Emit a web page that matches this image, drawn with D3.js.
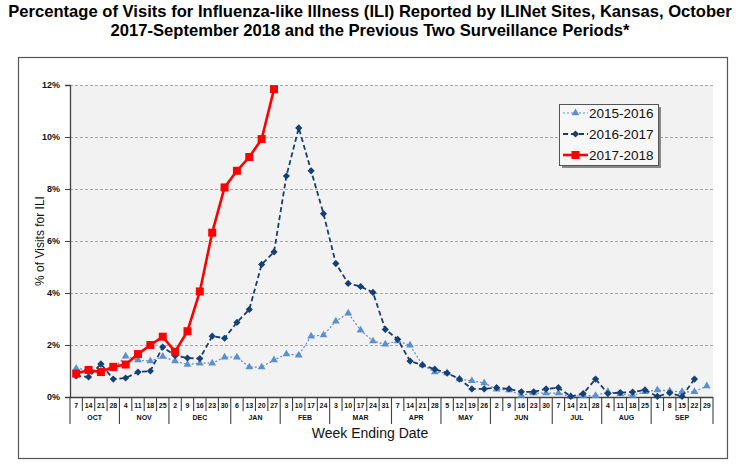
<!DOCTYPE html>
<html><head><meta charset="utf-8">
<script src="https://cdn.jsdelivr.net/npm/d3@7"></script>
<style>
body{margin:0;background:#fff;}
svg{display:block;font-family:"Liberation Sans",Arial,sans-serif;}
</style></head>
<body><svg id="c" width="740" height="468"></svg>
<script>
const weekDays = [7,14,21,28,4,11,18,25,2,9,16,23,30,6,13,20,27,3,10,17,24,3,10,17,24,31,7,14,21,28,5,12,19,26,2,9,16,23,30,7,14,21,28,4,11,18,25,1,8,15,22,29];
const monthNames = ["OCT","NOV","DEC","JAN","FEB","MAR","APR","MAY","JUN","JUL","AUG","SEP"];
const monthWeeks = [4,4,5,4,4,5,4,4,5,4,4,5];
const yTicks = [0,2,4,6,8,10,12];
const s1516 = [1.1,1.04,1.0,1.08,1.57,1.42,1.38,1.56,1.38,1.25,1.3,1.3,1.53,1.53,1.15,1.15,1.42,1.65,1.61,2.34,2.38,2.91,3.22,2.57,2.15,2.03,2.15,1.99,1.23,0.96,0.92,0.69,0.62,0.54,0.3,0.27,0.06,0.15,0.15,0.15,0.02,0.06,0.05,0.2,0.12,0.06,0.2,0.27,0.23,0.2,0.2,0.42];
const s1617 = [0.81,0.77,1.27,0.69,0.73,0.96,1.0,1.92,1.59,1.5,1.48,2.34,2.26,2.87,3.37,5.1,5.58,8.5,10.35,8.7,7.05,5.13,4.37,4.25,4.02,2.6,2.22,1.38,1.23,1.07,0.92,0.69,0.31,0.31,0.36,0.31,0.2,0.2,0.31,0.36,0.02,0.13,0.69,0.13,0.17,0.19,0.27,0.02,0.16,0.02,0.69];
const s1718 = [0.9,1.04,0.96,1.16,1.25,1.65,2.0,2.32,1.74,2.53,4.06,6.32,8.06,8.7,9.23,9.92,11.84];
const seriesNames = ["2015-2016","2016-2017","2017-2018"];

const svg = d3.select("#c");
const L=70, R=713, T=85, B=397;
const x = d3.scaleBand().domain(d3.range(weekDays.length)).range([L,R]).padding(0);
const y = d3.scaleLinear().domain([0,12]).range([B,T]);
const cx = i => x(i)+x.bandwidth()/2;

// title
svg.append("text").attr("x",370).attr("y",17).attr("text-anchor","middle")
  .attr("font-size",16.6).attr("font-weight","bold")
  .text("Percentage of Visits for Influenza-like Illness (ILI) Reported by ILINet Sites, Kansas, October");
svg.append("text").attr("x",370).attr("y",36).attr("text-anchor","middle")
  .attr("font-size",16.6).attr("font-weight","bold")
  .text("2017-September 2018 and the Previous Two Surveillance Periods*");

// frame
svg.append("rect").attr("x",18.5).attr("y",57.5).attr("width",709).attr("height",401)
  .attr("fill","none").attr("stroke","#555").attr("stroke-width",1.2);

// plot background
svg.append("rect").attr("x",L).attr("y",T).attr("width",R-L).attr("height",B-T).attr("fill","#f2f2f2");

// grid
svg.append("g").selectAll("line").data(yTicks.filter(d=>d>0)).join("line")
  .attr("x1",L-5).attr("x2",R).attr("y1",d=>Math.round(y(d))+0.5).attr("y2",d=>Math.round(y(d))+0.5)
  .attr("stroke","#a6a6a6").attr("stroke-width",1.2).attr("stroke-dasharray","3,2");

// y axis
const ya = svg.append("g").attr("transform",`translate(${L},0)`)
  .call(d3.axisLeft(y).tickValues(yTicks).tickFormat(d=>d+"%").tickSize(5).tickPadding(5));
ya.select(".domain").attr("stroke","#404040").attr("stroke-width",1.3);
ya.selectAll(".tick line").attr("stroke","#404040");
ya.selectAll("text").attr("font-size",9).attr("font-weight","bold").attr("fill","#111")
  .attr("font-family","'Liberation Sans',Arial,sans-serif");

// x axis line
svg.append("line").attr("x1",L).attr("x2",R).attr("y1",B+0.5).attr("y2",B+0.5).attr("stroke","#404040").attr("stroke-width",1.3);

// week ticks and labels
const monthStart = [];
let acc=0; monthWeeks.forEach(n=>{monthStart.push(acc); acc+=n;}); monthStart.push(acc);
const xg = svg.append("g");
xg.selectAll("line.wk").data(d3.range(weekDays.length+1)).join("line")
  .attr("x1",i=> i<weekDays.length ? x(i) : R).attr("x2",i=> i<weekDays.length ? x(i) : R)
  .attr("y1",B).attr("y2",i=> monthStart.includes(i) ? 424 : 411)
  .attr("stroke","#404040").attr("stroke-width",1.1);
xg.selectAll("text.wk").data(weekDays).join("text")
  .attr("x",(d,i)=>cx(i)).attr("y",408).attr("text-anchor","middle")
  .attr("font-size",7).attr("font-weight","bold").attr("fill","#111").text(d=>d);
xg.selectAll("text.mo").data(monthNames).join("text")
  .attr("x",(d,i)=> (x(monthStart[i]) + (monthStart[i+1]<weekDays.length? x(monthStart[i+1]) : R))/2)
  .attr("y",420).attr("text-anchor","middle")
  .attr("font-size",7).attr("font-weight","bold").attr("fill","#111").text(d=>d);

svg.append("text").attr("x",370).attr("y",438).attr("text-anchor","middle").attr("font-size",14).attr("fill","#111").text("Week Ending Date");
svg.append("text").attr("transform","translate(44,241) rotate(-90)").attr("text-anchor","middle")
  .attr("font-size",12).attr("fill","#111").text("% of Visits for ILI");

// series
const line = d3.line().x((d,i)=>cx(i)).y(d=>y(d));
const styles = [
  {data:s1516,color:"#5b8fd0",w:1.2,dash:"2,2",marker:"tri"},
  {data:s1617,color:"#163f73",w:1.8,dash:"5,3",marker:"dia"},
  {data:s1718,color:"#ff0000",w:2.6,dash:null,marker:"sq"}
];
const sym = {tri:d3.symbol().type(d3.symbolTriangle).size(26),
             dia:d3.symbol().type(d3.symbolSquare).size(26),
             sq:d3.symbol().type(d3.symbolSquare).size(64)};
const rot = {tri:0, dia:45, sq:0};
styles.forEach(s=>{
  svg.append("path").datum(s.data).attr("d",line).attr("fill","none")
    .attr("stroke",s.color).attr("stroke-width",s.w).attr("stroke-dasharray",s.dash);
  svg.append("g").selectAll("path").data(s.data).join("path")
    .attr("transform",(d,i)=>`translate(${cx(i)},${y(d)}) rotate(${rot[s.marker]})`).attr("d",sym[s.marker]).attr("fill",s.color);
});

// legend
const lg = svg.append("g");
lg.append("rect").attr("x",562).attr("y",107).attr("width",99).attr("height",61).attr("fill","#888");
lg.append("rect").attr("x",559.5).attr("y",104.5).attr("width",99).attr("height",61).attr("fill","#f7f7f7").attr("stroke","#555").attr("stroke-width",1);
styles.forEach((s,k)=>{
  const yy = 113+k*21;
  lg.append("line").attr("x1",563).attr("x2",588).attr("y1",yy).attr("y2",yy)
    .attr("stroke",s.color).attr("stroke-width",s.w).attr("stroke-dasharray",s.dash);
  lg.append("path").attr("transform",`translate(575.5,${yy}) rotate(${rot[s.marker]})`).attr("d",sym[s.marker]).attr("fill",s.color);
  lg.append("text").attr("x",589).attr("y",yy+5).attr("font-size",13.5).attr("fill","#111").text(seriesNames[k]);
});
</script></body></html>
